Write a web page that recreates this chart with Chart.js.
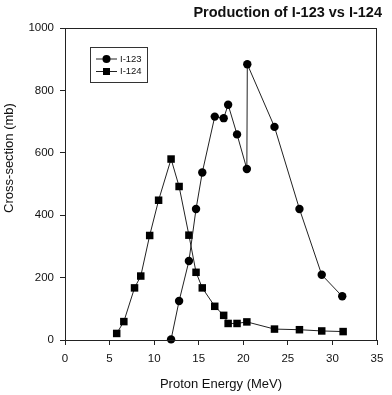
<!DOCTYPE html>
<html>
<head>
<meta charset="utf-8">
<script src="https://cdn.jsdelivr.net/npm/chart.js@4/dist/chart.umd.min.js"></script>
<style>
  html, body { margin: 0; padding: 0; background: #ffffff; }
  #wrap { width: 392px; height: 395px; }
</style>
</head>
<body>
<div id="wrap"><canvas id="c" width="392" height="395"></canvas></div>
<script>
// ---- Data ----
const i123Energy = [11.9, 12.8, 13.9, 14.7, 15.4, 16.8, 17.8, 18.3, 19.3, 20.4, 20.45, 23.5, 26.3, 28.8, 31.1];
const i123Cross  = [2, 125, 253, 420, 537, 716, 711, 754, 659, 548, 884, 683, 420, 209, 140];

const i124Energy = [5.8, 6.6, 7.8, 8.5, 9.5, 10.5, 11.9, 12.8, 13.9, 14.7, 15.4, 16.8, 17.8, 18.3, 19.3, 20.4, 23.5, 26.3, 28.8, 31.2];
const i124Cross  = [21, 59, 167, 205, 335, 448, 580, 492, 336, 217, 167, 108, 79, 53, 53, 58, 35, 33, 29, 27];

const seriesLabels = ['I-123', 'I-124'];
const xTicks = [0, 5, 10, 15, 20, 25, 30, 35];
const yTicks = [0, 200, 400, 600, 800, 1000];

const chartTitle = 'Production of I-123 vs I-124';
const xTitle = 'Proton Energy (MeV)';
const yTitle = 'Cross-section (mb)';

// ---- Build ----
const FONT = '"Liberation Sans", Arial, Helvetica, sans-serif';
const INK = '#111111';

function pairs(xs, ys) { return xs.map((x, i) => ({ x: x, y: ys[i] })); }

const frameAndLegend = {
  id: 'frameAndLegend',
  afterDraw(chart) {
    const ctx = chart.ctx;
    const a = chart.chartArea;
    ctx.save();
    // plot frame
    ctx.strokeStyle = '#222222';
    ctx.lineWidth = 1;
    ctx.strokeRect(Math.round(a.left) + 0.5, Math.round(a.top) + 0.5,
                   Math.round(a.right - a.left) - 1, Math.round(a.bottom - a.top));

    // y axis title (placed above center as in the reference)
    const yt = chart.options.scales.y.title;
    ctx.fillStyle = INK;
    ctx.font = '13px ' + FONT;
    ctx.textAlign = 'center';
    ctx.textBaseline = 'middle';
    ctx.translate(9, 158);
    ctx.rotate(-Math.PI / 2);
    ctx.fillText(yt.text, 0, 0);
    ctx.setTransform(1, 0, 0, 1, 0, 0);

    // legend box inside plot
    const bx = a.left + 25, by = a.top + 19, bw = 57, bh = 35;
    ctx.strokeStyle = '#333333';
    ctx.strokeRect(bx + 0.5, by + 0.5, bw, bh);
    chart.data.datasets.forEach((ds, i) => {
      const cy = by + 12 + i * 12.5;
      const lx0 = bx + 6, lx1 = bx + 27, mx = bx + 16.5;
      ctx.strokeStyle = ds.borderColor;
      ctx.lineWidth = 1;
      ctx.beginPath();
      ctx.moveTo(lx0, cy);
      ctx.lineTo(lx1, cy);
      ctx.stroke();
      ctx.fillStyle = ds.pointBackgroundColor;
      if (ds.pointStyle === 'circle') {
        ctx.beginPath();
        ctx.arc(mx, cy, 4, 0, Math.PI * 2);
        ctx.fill();
      } else {
        ctx.fillRect(mx - 3.5, cy - 3.5, 7, 7);
      }
      ctx.fillStyle = INK;
      ctx.font = '9.5px ' + FONT;
      ctx.textAlign = 'left';
      ctx.textBaseline = 'middle';
      ctx.fillText(ds.label, bx + 30, cy);
    });
    ctx.restore();
  }
};

new Chart(document.getElementById('c'), {
  type: 'scatter',
  data: {
    datasets: [
      {
        label: seriesLabels[0],
        data: pairs(i123Energy, i123Cross),
        showLine: true,
        borderColor: '#222222',
        borderWidth: 1,
        pointStyle: 'circle',
        pointRadius: 4.2,
        pointHoverRadius: 4.2,
        pointBackgroundColor: '#000000',
        pointBorderColor: '#000000',
        pointBorderWidth: 0,
        clip: false
      },
      {
        label: seriesLabels[1],
        data: pairs(i124Energy, i124Cross),
        showLine: true,
        borderColor: '#222222',
        borderWidth: 1,
        pointStyle: 'rect',
        pointRadius: 5.3,
        pointHoverRadius: 5.3,
        pointBackgroundColor: '#000000',
        pointBorderColor: '#000000',
        pointBorderWidth: 0,
        clip: false
      }
    ]
  },
  options: {
    responsive: false,
    animation: false,
    events: [],
    layout: { padding: { left: 0, right: 10, top: 0, bottom: 0 } },
    plugins: {
      legend: { display: false },
      tooltip: { enabled: false },
      title: {
        display: true,
        text: chartTitle,
        align: 'end',
        color: INK,
        font: { family: FONT, size: 14.5, weight: 'bold', lineHeight: 1.2 },
        padding: { top: 4, bottom: 6.6 }
      }
    },
    scales: {
      x: {
        type: 'linear',
        min: xTicks[0],
        max: xTicks[xTicks.length - 1],
        afterBuildTicks(scale) { scale.ticks = xTicks.map(v => ({ value: v })); },
        afterFit(scale) { scale.height = 55; scale.paddingRight = 15; },
        grid: { display: true, drawOnChartArea: false, drawTicks: true, tickLength: 5, color: '#222222' },
        border: { display: true, color: '#222222' },
        ticks: { color: INK, font: { family: FONT, size: 11.5 }, padding: 7, maxRotation: 0,
                 callback: v => String(v) },
        title: {
          display: true,
          text: xTitle,
          color: INK,
          font: { family: FONT, size: 13 },
          padding: { top: 0, bottom: 3 }
        }
      },
      y: {
        type: 'linear',
        min: yTicks[0],
        max: yTicks[yTicks.length - 1],
        afterBuildTicks(scale) { scale.ticks = yTicks.map(v => ({ value: v })); },
        afterFit(scale) { scale.width = 65; },
        grid: { display: true, drawOnChartArea: false, drawTicks: true, tickLength: 5, color: '#222222' },
        border: { display: true, color: '#222222' },
        ticks: { color: INK, font: { family: FONT, size: 11.5 }, padding: 6,
                 callback: v => String(v) },
        title: {
          display: false,
          text: yTitle,
          color: INK,
          font: { family: FONT, size: 13 }
        }
      }
    }
  },
  plugins: [frameAndLegend]
});
</script>
</body>
</html>
